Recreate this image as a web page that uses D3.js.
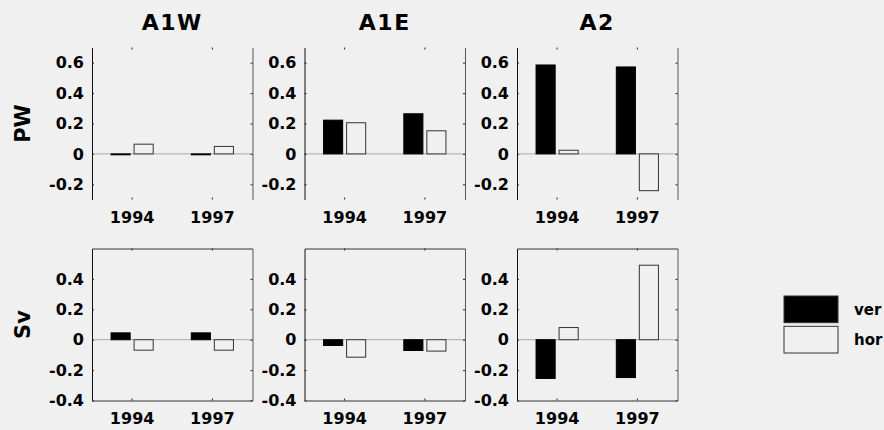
<!DOCTYPE html>
<html>
<head>
<meta charset="utf-8">
<script src="https://cdn.jsdelivr.net/npm/d3@7"></script>
<style>
  body { margin: 0; background: #f0f0f0; }
  svg { display: block; }
  text { font-family: "DejaVu Sans", sans-serif; font-weight: bold; fill: #000; }
</style>
</head>
<body>
<script>
// data
const regions = ['A1W', 'A1E', 'A2'];
const years = ['1994', '1997'];
const series = ['ver', 'hor'];
const rowNames = ['PW', 'Sv'];

// values per region, [1994, 1997]
const pwVer = [[-0.006, -0.006], [0.222, 0.264], [0.585, 0.572]];
const pwHor = [[0.064, 0.049], [0.205, 0.152], [0.024, -0.242]];
const svVer = [[0.045, 0.045], [-0.038, -0.071], [-0.255, -0.249]];
const svHor = [[-0.069, -0.069], [-0.115, -0.075], [0.08, 0.49]];

const pwTicks = [-0.2, 0, 0.2, 0.4, 0.6];
const svTicks = [-0.4, -0.2, 0, 0.2, 0.4];
const pwDomain = [-0.3, 0.7];
const svDomain = [-0.4, 0.6];

const rows = [
  { name: rowNames[0], ver: pwVer, hor: pwHor, ticks: pwTicks, domain: pwDomain, box: false },
  { name: rowNames[1], ver: svVer, hor: svHor, ticks: svTicks, domain: svDomain, box: true }
];

const width = 884, height = 430;
const panelX = [92, 304.5, 517];
const rowY = [47.5, 248.5];
const panelW = 160.5, panelH = 152;
const bg = '#f0f0f0';

const fmt = d => d === 0 ? '0' : String(d);

const svg = d3.select('body').append('svg')
  .attr('width', width)
  .attr('height', height);

const x0 = d3.scaleBand().domain(years).range([0, panelW]);
const x1 = d3.scaleBand().domain(series)
  .range([x0.bandwidth() * 0.2375, x0.bandwidth() * 0.7625])
  .paddingInner(0.17);

rows.forEach((row, r) => {
  const y = d3.scaleLinear().domain(row.domain).range([panelH, 0]);

  // row label
  svg.append('text')
    .attr('transform', `translate(30, ${rowY[r] + panelH / 2}) rotate(-90)`)
    .attr('text-anchor', 'middle')
    .style('font-size', '21px')
    .text(row.name);

  regions.forEach((reg, c) => {
    const g = svg.append('g')
      .attr('transform', `translate(${panelX[c]}, ${rowY[r]})`);

    if (r === 0) {
      svg.append('text')
        .attr('x', panelX[c] + panelW / 2)
        .attr('y', 30)
        .attr('text-anchor', 'middle')
        .style('font-size', '22px')
        .style('letter-spacing', '1.5px')
        .text(reg);
    }

    // zero line
    g.append('line')
      .attr('x1', 0).attr('x2', panelW)
      .attr('y1', y(0)).attr('y2', y(0))
      .attr('stroke', '#aaa');

    // bars
    const data = years.map((yr, i) => ({
      year: yr,
      vals: series.map(s => ({ key: s, v: row[s][c][i] }))
    }));

    g.selectAll('g.grp')
      .data(data)
      .enter()
      .append('g')
      .attr('class', 'grp')
      .attr('transform', d => `translate(${x0(d.year)}, 0)`)
      .selectAll('rect')
      .data(d => d.vals)
      .enter()
      .append('rect')
      .attr('x', d => x1(d.key))
      .attr('width', x1.bandwidth())
      .attr('y', d => y(Math.max(0, d.v)))
      .attr('height', d => Math.abs(y(d.v) - y(0)))
      .attr('fill', d => d.key === 'ver' ? '#000' : bg)
      .attr('stroke', d => d.key === 'ver' ? '#000' : '#333')
      .attr('stroke-width', 1);

    // axes
    const left = g.append('g')
      .call(d3.axisLeft(y).tickValues(row.ticks).tickFormat(fmt)
        .tickSize(-2).tickSizeOuter(0).tickPadding(8));
    const right = g.append('g')
      .attr('transform', `translate(${panelW}, 0)`)
      .call(d3.axisRight(y).tickValues(row.ticks).tickFormat('')
        .tickSize(-2).tickSizeOuter(0));
    const bottom = g.append('g')
      .attr('transform', `translate(0, ${panelH})`)
      .call(d3.axisBottom(x0).tickSize(-2).tickSizeOuter(0).tickPadding(12));
    const top = g.append('g')
      .call(d3.axisTop(x0).tickFormat('').tickSize(-2).tickSizeOuter(0));

    [left, right, bottom, top].forEach(a => {
      a.selectAll('text')
        .style('font-family', '"DejaVu Sans", sans-serif')
        .style('font-weight', 'bold')
        .style('font-size', '16px')
        .attr('fill', '#000');
      a.selectAll('line').attr('stroke', '#222');
      a.select('.domain').attr('stroke', '#111');
    });
    right.select('.domain').attr('stroke', '#555');
    bottom.selectAll('text').attr('dy', '0.71em');

    if (!row.box) {
      bottom.select('.domain').remove();
      top.select('.domain').remove();
    } else {
      bottom.select('.domain').attr('stroke', '#333');
      top.select('.domain').attr('stroke', '#333');
    }
  });
});

// legend
const leg = svg.append('g').attr('transform', 'translate(784, 296)');
const legY = d3.scaleBand().domain(series).range([0, 57]).paddingInner(0.12);
leg.selectAll('rect')
  .data(series)
  .enter()
  .append('rect')
  .attr('x', 0)
  .attr('y', d => legY(d))
  .attr('width', 54)
  .attr('height', legY.bandwidth())
  .attr('fill', d => d === 'ver' ? '#000' : bg)
  .attr('stroke', '#333');
leg.selectAll('text')
  .data(series)
  .enter()
  .append('text')
  .attr('x', 70)
  .attr('y', d => legY(d) + legY.bandwidth() / 2)
  .attr('dy', '0.35em')
  .style('font-size', '15px')
  .text(d => d);
</script>
</body>
</html>
